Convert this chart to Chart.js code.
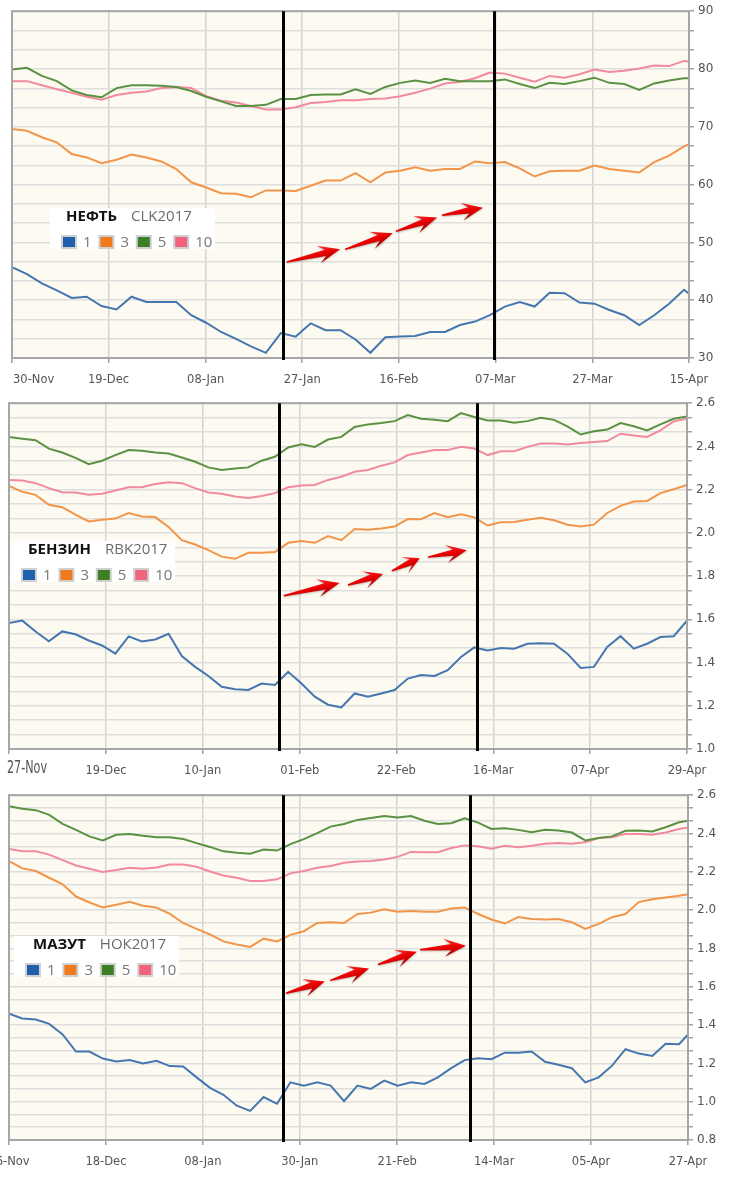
<!DOCTYPE html>
<html>
<head>
<meta charset="utf-8">
<script src="https://cdn.jsdelivr.net/npm/chart.js@4"></script>
<style>
  html, body { margin: 0; padding: 0; background: #fff; }
  #page { position: relative; width: 730px; height: 1182px; overflow: hidden; }
  canvas { position: absolute; left: 0; }
</style>
</head>
<body>
<div id="page">
  <canvas id="c1" width="730" height="392" style="top:0"></canvas>
  <canvas id="c2" width="730" height="392" style="top:392px"></canvas>
  <canvas id="c3" width="730" height="398" style="top:784px"></canvas>
</div>
<script>
// Series names (months ahead) and colours
const seriesNames = ['1', '3', '5', '10'];
const lineColors = ['#4676b0', '#f2954a', '#5a9142', '#f18a9e'];
const boxColors = ['#1f5fab', '#ef7b1e', '#3e7e24', '#f0647e'];

// ---- НЕФТЬ CLK2017 ----
const days1 = [0,3,6,9,12,15,18,21,24,27,30,33,36,39,42,45,48,51,54,57,60,63,66,69,72,75,78,81,84,87,90,93,96,99,102,105,108,111,114,117,120,123,126,129,132,135,136];
const oil1 = [45.7,44.5,42.9,41.7,40.4,40.6,39.0,38.4,40.6,39.7,39.7,39.7,37.4,36.1,34.5,33.3,32.0,30.9,34.3,33.7,36.0,34.8,34.8,33.2,30.9,33.6,33.7,33.8,34.5,34.5,35.7,36.3,37.4,38.9,39.7,38.9,41.3,41.2,39.6,39.4,38.3,37.4,35.7,37.4,39.4,41.8,41.1];
const oil3 = [69.6,69.3,68.2,67.3,65.3,64.7,63.7,64.3,65.2,64.7,64.0,62.7,60.4,59.5,58.5,58.4,57.8,59.0,59.0,58.9,59.8,60.7,60.7,62.0,60.4,62.1,62.4,63.0,62.4,62.7,62.7,64.0,63.7,63.9,62.8,61.4,62.3,62.4,62.4,63.3,62.7,62.4,62.1,63.9,65.0,66.6,67.0];
const oil5 = [79.9,80.2,78.8,77.9,76.3,75.5,75.1,76.7,77.2,77.2,77.1,76.9,76.2,75.2,74.4,73.6,73.6,73.8,74.8,74.8,75.5,75.6,75.6,76.5,75.7,76.9,77.6,78.0,77.6,78.3,77.9,77.9,77.9,78.2,77.4,76.7,77.6,77.4,77.9,78.5,77.6,77.4,76.4,77.5,78.0,78.4,78.4];
const oil10 = [77.9,77.9,77.2,76.5,75.9,75.2,74.7,75.5,75.9,76.1,76.7,76.9,76.7,75.3,74.5,74.2,73.6,73.0,73.0,73.4,74.1,74.3,74.6,74.6,74.8,74.9,75.3,75.9,76.6,77.5,77.8,78.4,79.4,79.2,78.5,77.8,78.8,78.5,79.1,79.9,79.5,79.7,80.1,80.6,80.5,81.4,81.3];
const tickDays1 = [0,19.4,38.9,58.3,77.7,97.1,116.6,136];
const tickLabels1 = ['30-Nov','19-Dec','08-Jan','27-Jan','16-Feb','07-Mar','27-Mar','15-Apr'];
const yLabels1 = [30,40,50,60,70,80,90];
const marks1 = [54.4, 96.8];
const arrows1 = [[55.2,46.6,65.9,48.8],[66.9,48.8,76.5,51.6],[77.1,51.9,85.4,54.3],[86.4,54.7,94.6,56.0]];

// ---- БЕНЗИН RBK2017 ----
const days2 = [0,3,6,9,12,15,18,21,24,27,30,33,36,39,42,45,48,51,54,57,60,63,66,69,72,75,78,81,84,87,90,93,96,99,102,105,108,111,114,117,120,123,126,129,132,135,138,141,144,147,150,153];
const gas1 = [1.583,1.594,1.544,1.498,1.544,1.531,1.502,1.479,1.441,1.521,1.498,1.507,1.533,1.430,1.380,1.338,1.288,1.277,1.273,1.303,1.296,1.357,1.303,1.242,1.205,1.192,1.257,1.242,1.257,1.273,1.326,1.342,1.338,1.365,1.426,1.470,1.456,1.467,1.464,1.487,1.489,1.487,1.441,1.375,1.380,1.472,1.522,1.464,1.487,1.518,1.522,1.594];
const gas3 = [2.217,2.190,2.176,2.130,2.119,2.084,2.053,2.061,2.066,2.092,2.076,2.073,2.027,1.966,1.946,1.920,1.890,1.880,1.908,1.908,1.911,1.954,1.962,1.954,1.985,1.966,2.018,2.015,2.020,2.029,2.064,2.063,2.092,2.072,2.086,2.072,2.034,2.049,2.050,2.061,2.070,2.058,2.038,2.030,2.038,2.092,2.125,2.145,2.148,2.184,2.202,2.222];
const gas5 = [2.444,2.436,2.429,2.390,2.372,2.347,2.318,2.334,2.360,2.383,2.380,2.372,2.367,2.349,2.329,2.303,2.291,2.298,2.303,2.334,2.352,2.395,2.410,2.398,2.432,2.444,2.490,2.502,2.508,2.517,2.545,2.528,2.523,2.517,2.554,2.536,2.520,2.520,2.510,2.517,2.533,2.523,2.493,2.455,2.470,2.478,2.508,2.493,2.474,2.502,2.528,2.539];
const gas10 = [2.245,2.242,2.230,2.207,2.188,2.187,2.176,2.181,2.196,2.211,2.211,2.226,2.234,2.230,2.207,2.187,2.181,2.168,2.161,2.171,2.184,2.211,2.219,2.222,2.245,2.260,2.283,2.291,2.311,2.326,2.360,2.372,2.383,2.383,2.398,2.390,2.360,2.378,2.378,2.398,2.413,2.413,2.409,2.416,2.421,2.425,2.459,2.451,2.444,2.474,2.516,2.528];
const tickDays2 = [0,21.9,43.7,65.6,87.4,109.3,131.1,153];
const tickLabels2 = ['27-Nov','19-Dec','10-Jan','01-Feb','22-Feb','16-Mar','07-Apr','29-Apr'];
const yLabels2 = [1.0,1.2,1.4,1.6,1.8,2.0,2.2,2.4,2.6];
const marks2 = [60.9, 105.6];
const arrows2 = [[62.0,1.709,74.6,1.768],[76.5,1.759,84.4,1.810],[86.4,1.824,92.7,1.883],[94.5,1.888,103.3,1.920]];

// ---- МАЗУТ НОК2017 ----
const days3 = [0,3,6,9,12,15,18,21,24,27,30,33,36,39,42,45,48,51,54,57,60,63,66,69,72,75,78,81,84,87,90,93,96,99,102,105,108,111,114,117,120,123,126,129,132,135,138,141,144,147,150,152];
const fuel1 = [1.460,1.434,1.429,1.406,1.351,1.262,1.262,1.225,1.210,1.217,1.200,1.213,1.186,1.184,1.127,1.072,1.036,0.979,0.952,1.024,0.989,1.101,1.084,1.101,1.084,1.003,1.084,1.067,1.110,1.084,1.101,1.093,1.127,1.175,1.217,1.227,1.222,1.256,1.256,1.262,1.208,1.193,1.175,1.101,1.127,1.188,1.274,1.251,1.239,1.303,1.300,1.351];
const fuel3 = [2.256,2.218,2.204,2.169,2.135,2.071,2.040,2.014,2.028,2.043,2.023,2.014,1.980,1.933,1.902,1.873,1.837,1.821,1.808,1.851,1.837,1.871,1.890,1.933,1.937,1.933,1.980,1.987,2.004,1.992,1.995,1.992,1.992,2.009,2.014,1.980,1.951,1.930,1.964,1.954,1.951,1.954,1.937,1.902,1.928,1.963,1.980,2.042,2.057,2.066,2.075,2.083];
const fuel5 = [2.543,2.529,2.522,2.497,2.450,2.419,2.385,2.364,2.393,2.397,2.388,2.381,2.380,2.371,2.350,2.330,2.307,2.299,2.295,2.316,2.311,2.345,2.371,2.402,2.436,2.450,2.471,2.481,2.491,2.483,2.491,2.467,2.450,2.454,2.479,2.457,2.424,2.428,2.419,2.407,2.419,2.416,2.405,2.364,2.376,2.385,2.414,2.416,2.411,2.433,2.459,2.467];
const fuel10 = [2.319,2.307,2.307,2.290,2.261,2.233,2.216,2.199,2.209,2.221,2.216,2.223,2.238,2.238,2.226,2.202,2.181,2.169,2.152,2.152,2.161,2.192,2.204,2.221,2.230,2.247,2.254,2.257,2.264,2.278,2.304,2.302,2.302,2.324,2.338,2.333,2.321,2.336,2.328,2.336,2.347,2.350,2.347,2.354,2.376,2.380,2.398,2.398,2.393,2.405,2.424,2.431];
const tickDays3 = [0,21.7,43.4,65.1,86.9,108.6,130.3,152];
const tickLabels3 = ['26-Nov','18-Dec','08-Jan','30-Jan','21-Feb','14-Mar','05-Apr','27-Apr'];
const yLabels3 = [0.8,1.0,1.2,1.4,1.6,1.8,2.0,2.2,2.4,2.6];
const marks3 = [61.3, 103.2];
const arrows3 = [[62.0,1.566,70.7,1.628],[71.9,1.633,80.6,1.695],[82.6,1.716,91.3,1.783],[92.0,1.793,102.3,1.814]];

function drawArrow(ctx, x0, y0, x1, y1) {
  const dx = x1 - x0, dy = y1 - y0, len = Math.hypot(dx, dy);
  const ux = dx / len, uy = dy / len, nx = -uy, ny = ux;
  const head = Math.min(18, len * 0.42);
  const bx = x1 - ux * head, by = y1 - uy * head;
  const p = (s, t) => [bx + ux * s + nx * t, by + uy * s + ny * t];
  const g = ctx.createLinearGradient(bx - nx * 9, by - ny * 9, bx + nx * 9, by + ny * 9);
  g.addColorStop(0, '#ff3030');
  g.addColorStop(0.5, '#e80000');
  g.addColorStop(1, '#a00000');
  ctx.save();
  ctx.shadowColor = 'rgba(0,0,0,0.25)';
  ctx.shadowBlur = 2;
  ctx.shadowOffsetY = 1;
  ctx.beginPath();
  ctx.moveTo(x0 + nx * 0.7, y0 + ny * 0.7);
  ctx.lineTo(...p(3, 3.2));
  ctx.lineTo(...p(-4, 9));
  ctx.lineTo(x1, y1);
  ctx.lineTo(...p(-4, -9));
  ctx.lineTo(...p(3, -3.2));
  ctx.lineTo(x0 - nx * 0.7, y0 - ny * 0.7);
  ctx.closePath();
  ctx.fillStyle = g;
  ctx.fill();
  ctx.restore();
}

const overlay = {
  id: 'overlay',
  beforeDraw(chart) {
    const { ctx, chartArea: a } = chart;
    ctx.save();
    ctx.fillStyle = '#fdfbf1';
    ctx.fillRect(a.left, a.top, a.right - a.left, a.bottom - a.top);
    ctx.restore();
  },
  afterDatasetsDraw(chart, args, opts) {
    const { ctx, chartArea: a } = chart;
    const xs = chart.scales.x, ys = chart.scales.y;
    ctx.save();

    // plot frame
    ctx.strokeStyle = '#a6a6a6';
    ctx.lineWidth = 2;
    ctx.strokeRect(a.left, a.top, a.right - a.left, a.bottom - a.top);

    // black vertical markers
    ctx.strokeStyle = '#000';
    ctx.lineWidth = 3;
    opts.marks.forEach(d => {
      const x = Math.round(xs.getPixelForValue(d)) + 0.5;
      ctx.beginPath();
      ctx.moveTo(x, a.top);
      ctx.lineTo(x, a.bottom + 2);
      ctx.stroke();
    });

    // red arrows
    opts.arrows.forEach(([d0, v0, d1, v1]) => {
      drawArrow(ctx, xs.getPixelForValue(d0), ys.getPixelForValue(v0),
                xs.getPixelForValue(d1), ys.getPixelForValue(v1));
    });

    // legend box
    const L = opts.legend;
    ctx.fillStyle = '#fff';
    ctx.fillRect(L.x - 11, L.y - 34, 165, 41);
    ctx.textBaseline = 'middle';
    ctx.textAlign = 'left';
    ctx.font = 'bold 15px "Open Sans", sans-serif';
    ctx.fillStyle = '#111';
    ctx.fillText(L.title, L.x + L.titleDx, L.y - 25);
    const tw = ctx.measureText(L.title).width;
    ctx.font = '15px "Open Sans", sans-serif';
    ctx.fillStyle = '#6a6a6a';
    ctx.fillText(L.code, L.x + L.titleDx + tw + 14, L.y - 25);
    seriesNames.forEach((name, i) => {
      const sx = L.x + i * 37.4;
      ctx.fillStyle = '#d0d0d0';
      ctx.fillRect(sx, L.y - 7, 16, 14);
      ctx.fillStyle = boxColors[i];
      ctx.fillRect(sx + 2, L.y - 5, 12, 10);
      ctx.fillStyle = '#777';
      ctx.fillText(name, sx + 22, L.y + 1);
    });

    // x axis labels
    ctx.fillStyle = '#555';
    opts.xLabels.forEach((lab, i) => {
      const x = xs.getPixelForValue(opts.xTicks[i]);
      const y = a.bottom + 22.5;
      if (i === 0 && opts.firstLabel === 'left') {
        ctx.font = '11.5px "DejaVu Sans", sans-serif';
        ctx.textAlign = 'left';
        ctx.fillText(lab, x + 1, y);
      } else if (i === 0 && opts.firstLabel === 'narrow') {
        ctx.font = '18px "Liberation Sans Narrow", "DejaVu Sans Condensed", sans-serif';
        ctx.textAlign = 'left';
        ctx.fillText(lab, x - 2, y - 3, 40);
      } else {
        ctx.font = '11.5px "DejaVu Sans", sans-serif';
        ctx.textAlign = 'center';
        ctx.fillText(lab, x, y);
      }
    });
    ctx.restore();
  }
};

function makeChart(id, c) {
  const series = c.series;
  return new Chart(document.getElementById(id), {
    type: 'line',
    data: {
      datasets: series.map((vals, i) => ({
        label: seriesNames[i],
        data: c.days.map((d, j) => ({ x: d, y: vals[j] })),
        borderColor: lineColors[i],
        backgroundColor: 'transparent',
        borderWidth: 2,
        pointRadius: 0,
        tension: 0
      }))
    },
    options: {
      responsive: false,
      animation: false,
      events: [],
      layout: { padding: { left: c.left, top: c.top, right: 0, bottom: 0 } },
      plugins: {
        legend: { display: false },
        tooltip: { enabled: false },
        overlay: {
          marks: c.marks, arrows: c.arrows, legend: c.legend,
          xTicks: c.xTicks, xLabels: c.xLabels, firstLabel: c.firstLabel
        }
      },
      scales: {
        x: {
          type: 'linear',
          min: 0,
          max: c.xTicks[c.xTicks.length - 1],
          afterBuildTicks: s => { s.ticks = c.xTicks.map(v => ({ value: v })); },
          afterFit: s => { s.height = c.xh; },
          ticks: { display: false },
          grid: { color: '#d4d4d4', lineWidth: 1.5, tickLength: 5, tickColor: '#a0a0a0', tickWidth: 1.5 },
          border: { display: false }
        },
        y: {
          type: 'linear',
          position: 'right',
          min: c.yLabels[0],
          max: c.yLabels[c.yLabels.length - 1],
          afterBuildTicks: s => {
            const n = (c.yLabels.length - 1) * 3;
            const lo = c.yLabels[0], hi = c.yLabels[c.yLabels.length - 1];
            s.ticks = Array.from({ length: n + 1 }, (_, k) => ({ value: lo + (hi - lo) * k / n }));
          },
          afterFit: s => { s.width = c.yw; },
          ticks: {
            autoSkip: false,
            padding: 4,
            color: '#555',
            font: { family: 'DejaVu Sans', size: 12 },
            callback: v => {
              const hit = c.yLabels.find(l => Math.abs(l - v) < 1e-6);
              return hit === undefined ? '' : hit.toFixed(c.dec);
            }
          },
          grid: { color: '#dedede', lineWidth: 1.5, tickLength: 5, tickColor: '#a0a0a0', tickWidth: 1.5 },
          border: { display: false }
        }
      }
    },
    plugins: [overlay]
  });
}

makeChart('c1', {
  days: days1, series: [oil1, oil3, oil5, oil10],
  xTicks: tickDays1, xLabels: tickLabels1, yLabels: yLabels1, dec: 0,
  marks: marks1, arrows: arrows1, firstLabel: 'left',
  legend: { title: 'НЕФТЬ', code: 'CLK2017', x: 61, y: 242, titleDx: 5 },
  left: 12, top: 10, yw: 41, xh: 34
});
makeChart('c2', {
  days: days2, series: [gas1, gas3, gas5, gas10],
  xTicks: tickDays2, xLabels: tickLabels2, yLabels: yLabels2, dec: 1,
  marks: marks2, arrows: arrows2, firstLabel: 'narrow',
  legend: { title: 'БЕНЗИН', code: 'RBK2017', x: 21, y: 183, titleDx: 7 },
  left: 9, top: 10, yw: 43, xh: 35
});
makeChart('c3', {
  days: days3, series: [fuel1, fuel3, fuel5, fuel10],
  xTicks: tickDays3, xLabels: tickLabels3, yLabels: yLabels3, dec: 1,
  marks: marks3, arrows: arrows3, firstLabel: 'center',
  legend: { title: 'МАЗУТ', code: 'НОК2017', x: 25, y: 186, titleDx: 8 },
  left: 9, top: 8, yw: 42, xh: 42
});
</script>
</body>
</html>
